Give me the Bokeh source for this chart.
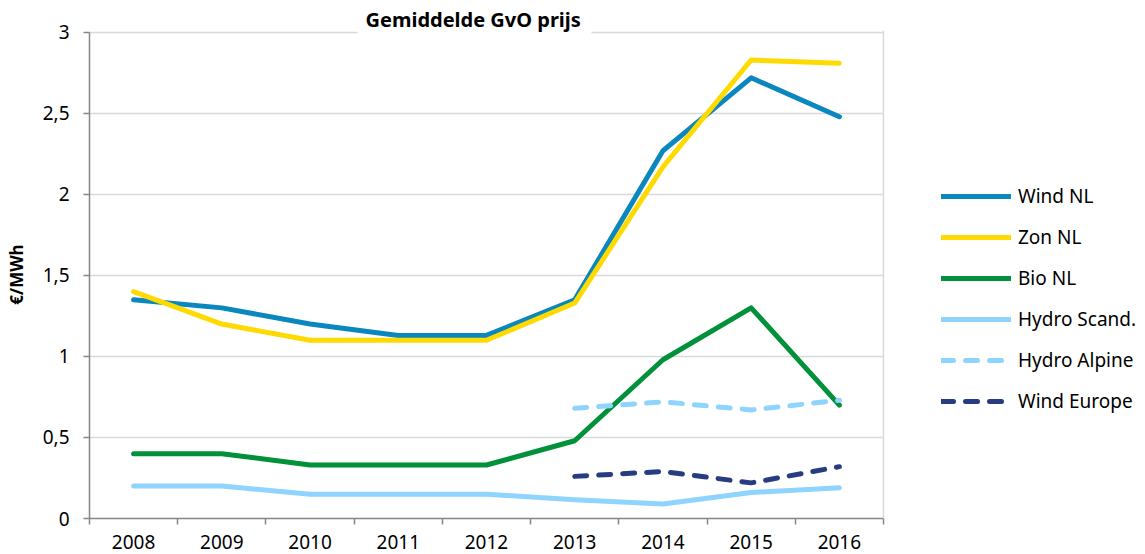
from bokeh.plotting import figure
from bokeh.models import (Range1d, FixedTicker, Legend, LegendItem, Span, BoxAnnotation,
                          ColumnDataSource)
from bokeh.embed import file_html
from bokeh.resources import INLINE

nan = float("nan")

years = [2008, 2009, 2010, 2011, 2012, 2013, 2014, 2015, 2016]
year_labels = ["2008", "2009", "2010", "2011", "2012", "2013", "2014", "2015", "2016"]

wind_nl = [1.35, 1.30, 1.20, 1.13, 1.13, 1.35, 2.27, 2.72, 2.48]
zon_nl = [1.40, 1.20, 1.10, 1.10, 1.10, 1.33, 2.17, 2.83, 2.81]
bio_nl = [0.40, 0.40, 0.33, 0.33, 0.33, 0.48, 0.98, 1.30, 0.70]
hydro_scand = [0.20, 0.20, 0.15, 0.15, 0.15, 0.115, 0.09, 0.16, 0.19]
hydro_alpine = [nan, nan, nan, nan, nan, 0.68, 0.72, 0.67, 0.73]
wind_europe = [nan, nan, nan, nan, nan, 0.26, 0.29, 0.22, 0.32]

series_names = ["Wind NL", "Zon NL", "Bio NL", "Hydro Scand.", "Hydro Alpine", "Wind Europe"]
series_values = [wind_nl, zon_nl, bio_nl, hydro_scand, hydro_alpine, wind_europe]
series_colors = ["#0A87BE", "#FFDA00", "#00913A", "#8FD4FF", "#8FD4FF", "#283C82"]
series_dash = ["solid", "solid", "solid", "solid", "12 12", "12 12"]

y_ticks = [0, 0.5, 1, 1.5, 2, 2.5, 3]
y_tick_labels = ["0", "0,5", "1", "1,5", "2", "2,5", "3"]

title_text = "Gemiddelde GvO prijs"
y_label = "€/MWh"

FONT = "Noto Sans"

X0, X1 = years[0] - 0.5, years[-1] + 0.5
# the plot frame extends to the right edge so the legend can sit inside it
p = figure(width=1145, height=554, output_backend="svg", toolbar_location=None,
           x_range=Range1d(X0, X0 + 1056 / 88.22), y_range=Range1d(0, 3.012),
           min_border_left=89, min_border_right=0, min_border_top=30,
           min_border_bottom=36)
p.outline_line_color = None
p.background_fill_color = "white"
p.border_fill_color = "white"

# Title above the plot area
p.title.text = title_text
p.title.text_font = FONT
p.title.text_font_size = "20px"
p.title.text_font_style = "bold"
p.title.text_color = "#000000"
p.title.align = "left"
p.title.offset = 276
p.title.standoff = -5

# X axis
xa = p.xaxis[0]
xa.bounds = (X0, X1)
xa.ticker = FixedTicker(ticks=years, minor_ticks=[y - 0.5 for y in years] + [X1])
xa.major_label_overrides = {y: s for y, s in zip(years, year_labels)}
xa.major_tick_out = 0
xa.major_tick_in = 0
xa.minor_tick_out = 6
xa.minor_tick_in = 0
xa.minor_tick_line_color = "#868686"
xa.minor_tick_line_width = 1.5
xa.axis_line_color = "#868686"
xa.axis_line_width = 1.5
xa.major_label_standoff = 10
xa.major_label_text_font = FONT
xa.major_label_text_font_size = "19px"
xa.major_label_text_color = "#000000"

# Y axis
ya = p.yaxis[0]
ya.bounds = (0, 3)
ya.ticker = FixedTicker(ticks=y_ticks, minor_ticks=[])
ya.major_label_overrides = {t: s for t, s in zip(y_ticks, y_tick_labels)}
ya.major_tick_out = 6
ya.major_tick_in = 0
ya.major_tick_line_color = "#868686"
ya.major_tick_line_width = 1.5
ya.axis_line_color = "#868686"
ya.axis_line_width = 1.5
ya.major_label_standoff = 14
ya.major_label_text_font = FONT
ya.major_label_text_font_size = "19px"
ya.major_label_text_color = "#000000"
ya.axis_label = y_label
ya.axis_label_text_font = FONT
ya.axis_label_text_font_size = "17px"
ya.axis_label_text_font_style = "bold"
ya.axis_label_text_color = "#000000"
ya.axis_label_standoff = 12

p.xgrid.grid_line_color = None
p.ygrid.grid_line_color = "#D9D9D9"
p.ygrid.grid_line_width = 1.5
p.ygrid.ticker = FixedTicker(ticks=y_ticks[1:], minor_ticks=[])
p.ygrid.cross_bounds = (X0, X1)

# right border of plot area
p.add_layout(Span(location=X1, dimension="height", line_color="#D9D9D9", line_width=1.5))
# gap in top gridline behind the title
p.add_layout(BoxAnnotation(left=2010.54, right=2013.19, bottom=2.97,
                           fill_color="white", fill_alpha=1, line_alpha=0))

items = []
for name, vals, col, dash in zip(series_names, series_values, series_colors, series_dash):
    src = ColumnDataSource(dict(x=years, y=vals))
    r = p.line("x", "y", source=src, line_color=col, line_width=5, line_dash=dash,
               line_cap="round", line_join="round")
    items.append(LegendItem(label=name, renderers=[r]))

legend = Legend(items=items, location=(852, 104), orientation="vertical",
                glyph_width=70, glyph_height=20, label_height=20, spacing=15,
                label_standoff=7, padding=0, margin=0,
                label_text_font=FONT, label_text_font_size="19px",
                label_text_color="#000000", border_line_color=None,
                background_fill_alpha=0)
p.add_layout(legend)

open("out.html", "w").write(file_html(p, INLINE))
